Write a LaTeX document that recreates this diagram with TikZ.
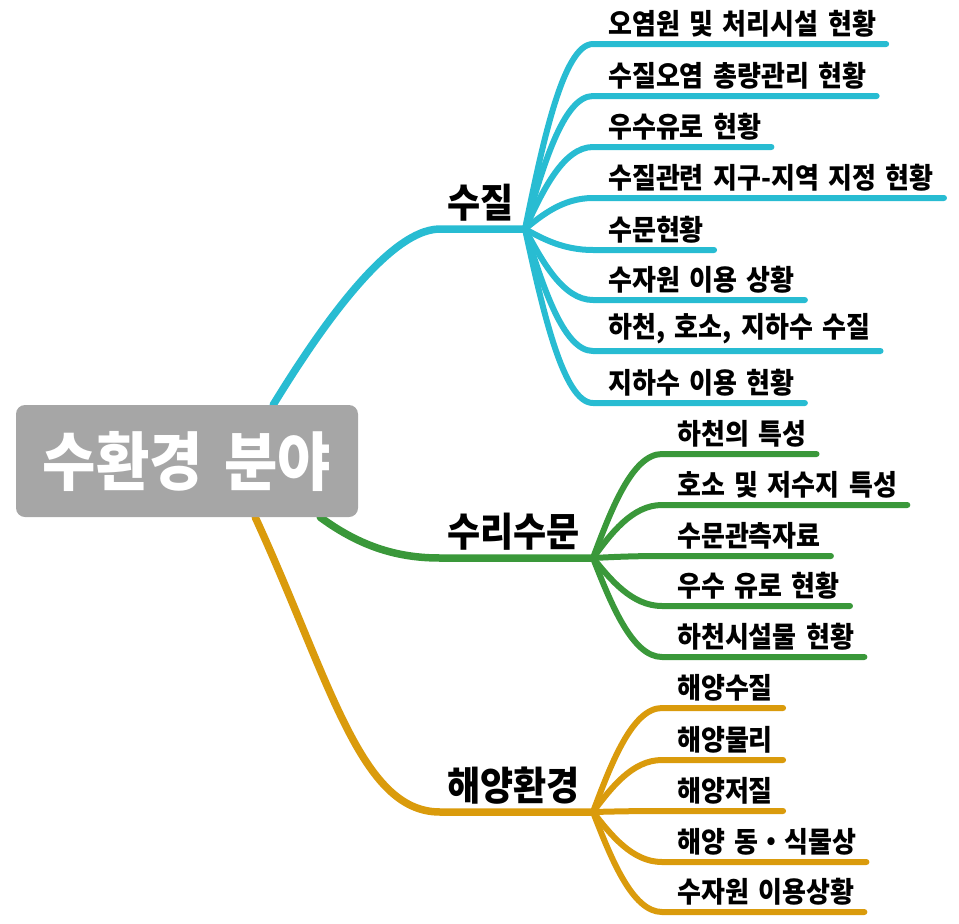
\documentclass[tikz,border=0pt]{standalone}
\usepackage{fontspec}
\setmainfont{Noto Sans CJK KR}[WordSpace=1.6]
\usetikzlibrary{calc,backgrounds}
\definecolor{cy}{RGB}{40,188,210}
\definecolor{gr}{RGB}{58,152,58}
\definecolor{og}{RGB}{218,155,12}
\definecolor{bx}{RGB}{166,166,166}
\newcommand{\tallt}[1]{\scalebox{1}[1.1]{#1}}
\tikzset{
  branch/.style={line width=7.5pt, line cap=round},
  twig/.style={line width=6pt, line cap=round},
  leaf/.style={anchor=south west, inner xsep=0pt, inner ysep=6.5pt,
    font=\bfseries\fontsize{26pt}{26pt}\selectfont},
  mainlbl/.style={anchor=south west, inner xsep=0pt, inner ysep=7.5pt,
    font=\bfseries\fontsize{36pt}{36pt}\selectfont},
  root/.style={fill=bx, rounded corners=9pt, text=white, inner sep=0pt,
    minimum width=342pt, minimum height=112pt,
    font=\bfseries\fontsize{58pt}{58pt}\selectfont}
}
\begin{document}
\begin{tikzpicture}[x=1pt,y=-1pt]
\useasboundingbox (0,0) rectangle (959,924);
\node[root] (root) at (187,461) {\tallt{수환경 분야}};
\coordinate (hq) at (525,229);
\coordinate (hg) at (593,558);
\coordinate (ho) at (593,812);
\node[mainlbl] (lq) at (447,229) {\tallt{수질}};
\node[mainlbl] (lg) at (447,558) {\tallt{수리수문}};
\node[mainlbl] (lo) at (447,812) {\tallt{해양환경}};
\begin{scope}[on background layer]
\draw[branch,cy] ($(root.north east)+(-85,0)$) .. controls (310,345) and (385,229) .. ($(lq.south west)+(-7,0)$) -- (hq);
\draw[branch,gr] ($(root.south east)+(-38,0)$) .. controls (362,548) and (400,558) .. ($(lg.south west)+(-7,0)$) -- (hg);
\draw[branch,og] ($(root.south east)+(-103,0)$) .. controls (330,680) and (360,812) .. ($(lo.south west)+(-7,0)$) -- (ho);
\end{scope}
\foreach \y/\t [count=\i] in {44/{오염원 및 처리시설 현황},96/{수질오염 총량관리 현황},147/{우수유로 현황},198/{수질관련 지구-지역 지정 현황},250/{수문현황},300/{수자원 이용 상황},351/{하천, 호소, 지하수 수질},403/{지하수 이용 현황}}{
  \node[leaf] (c\i) at (608,\y) {\tallt{\t}};
  \coordinate (kc\i) at ($(c\i.south west)+(-45,0)$);
  \draw[twig,cy] (hq) .. controls ($(hq)!0.45!(kc\i)$) and (kc\i) .. ($(c\i.south west)+(-15,0)$) -- ($(c\i.south east)+(10,0)$);
}
\foreach \y/\t [count=\i] in {454/{하천의 특성},505/{호소 및 저수지 특성},556/{수문관측자료},606/{우수 유로 현황},657/{하천시설물 현황}}{
  \node[leaf] (g\i) at (677,\y) {\tallt{\t}};
  \coordinate (kg\i) at ($(g\i.south west)+(-45,0)$);
  \draw[twig,gr] (hg) .. controls ($(hg)!0.45!(kg\i)$) and (kg\i) .. ($(g\i.south west)+(-15,0)$) -- ($(g\i.south east)+(10,0)$);
}
\foreach \y/\t [count=\i] in {708/{해양수질},760/{해양물리},811/{해양저질},862/{해양 동・식물상},912/{수자원 이용상황}}{
  \node[leaf] (o\i) at (677,\y) {\tallt{\t}};
  \coordinate (ko\i) at ($(o\i.south west)+(-45,0)$);
  \draw[twig,og] (ho) .. controls ($(ho)!0.45!(ko\i)$) and (ko\i) .. ($(o\i.south west)+(-15,0)$) -- ($(o\i.south east)+(10,0)$);
}
\end{tikzpicture}
\end{document}
